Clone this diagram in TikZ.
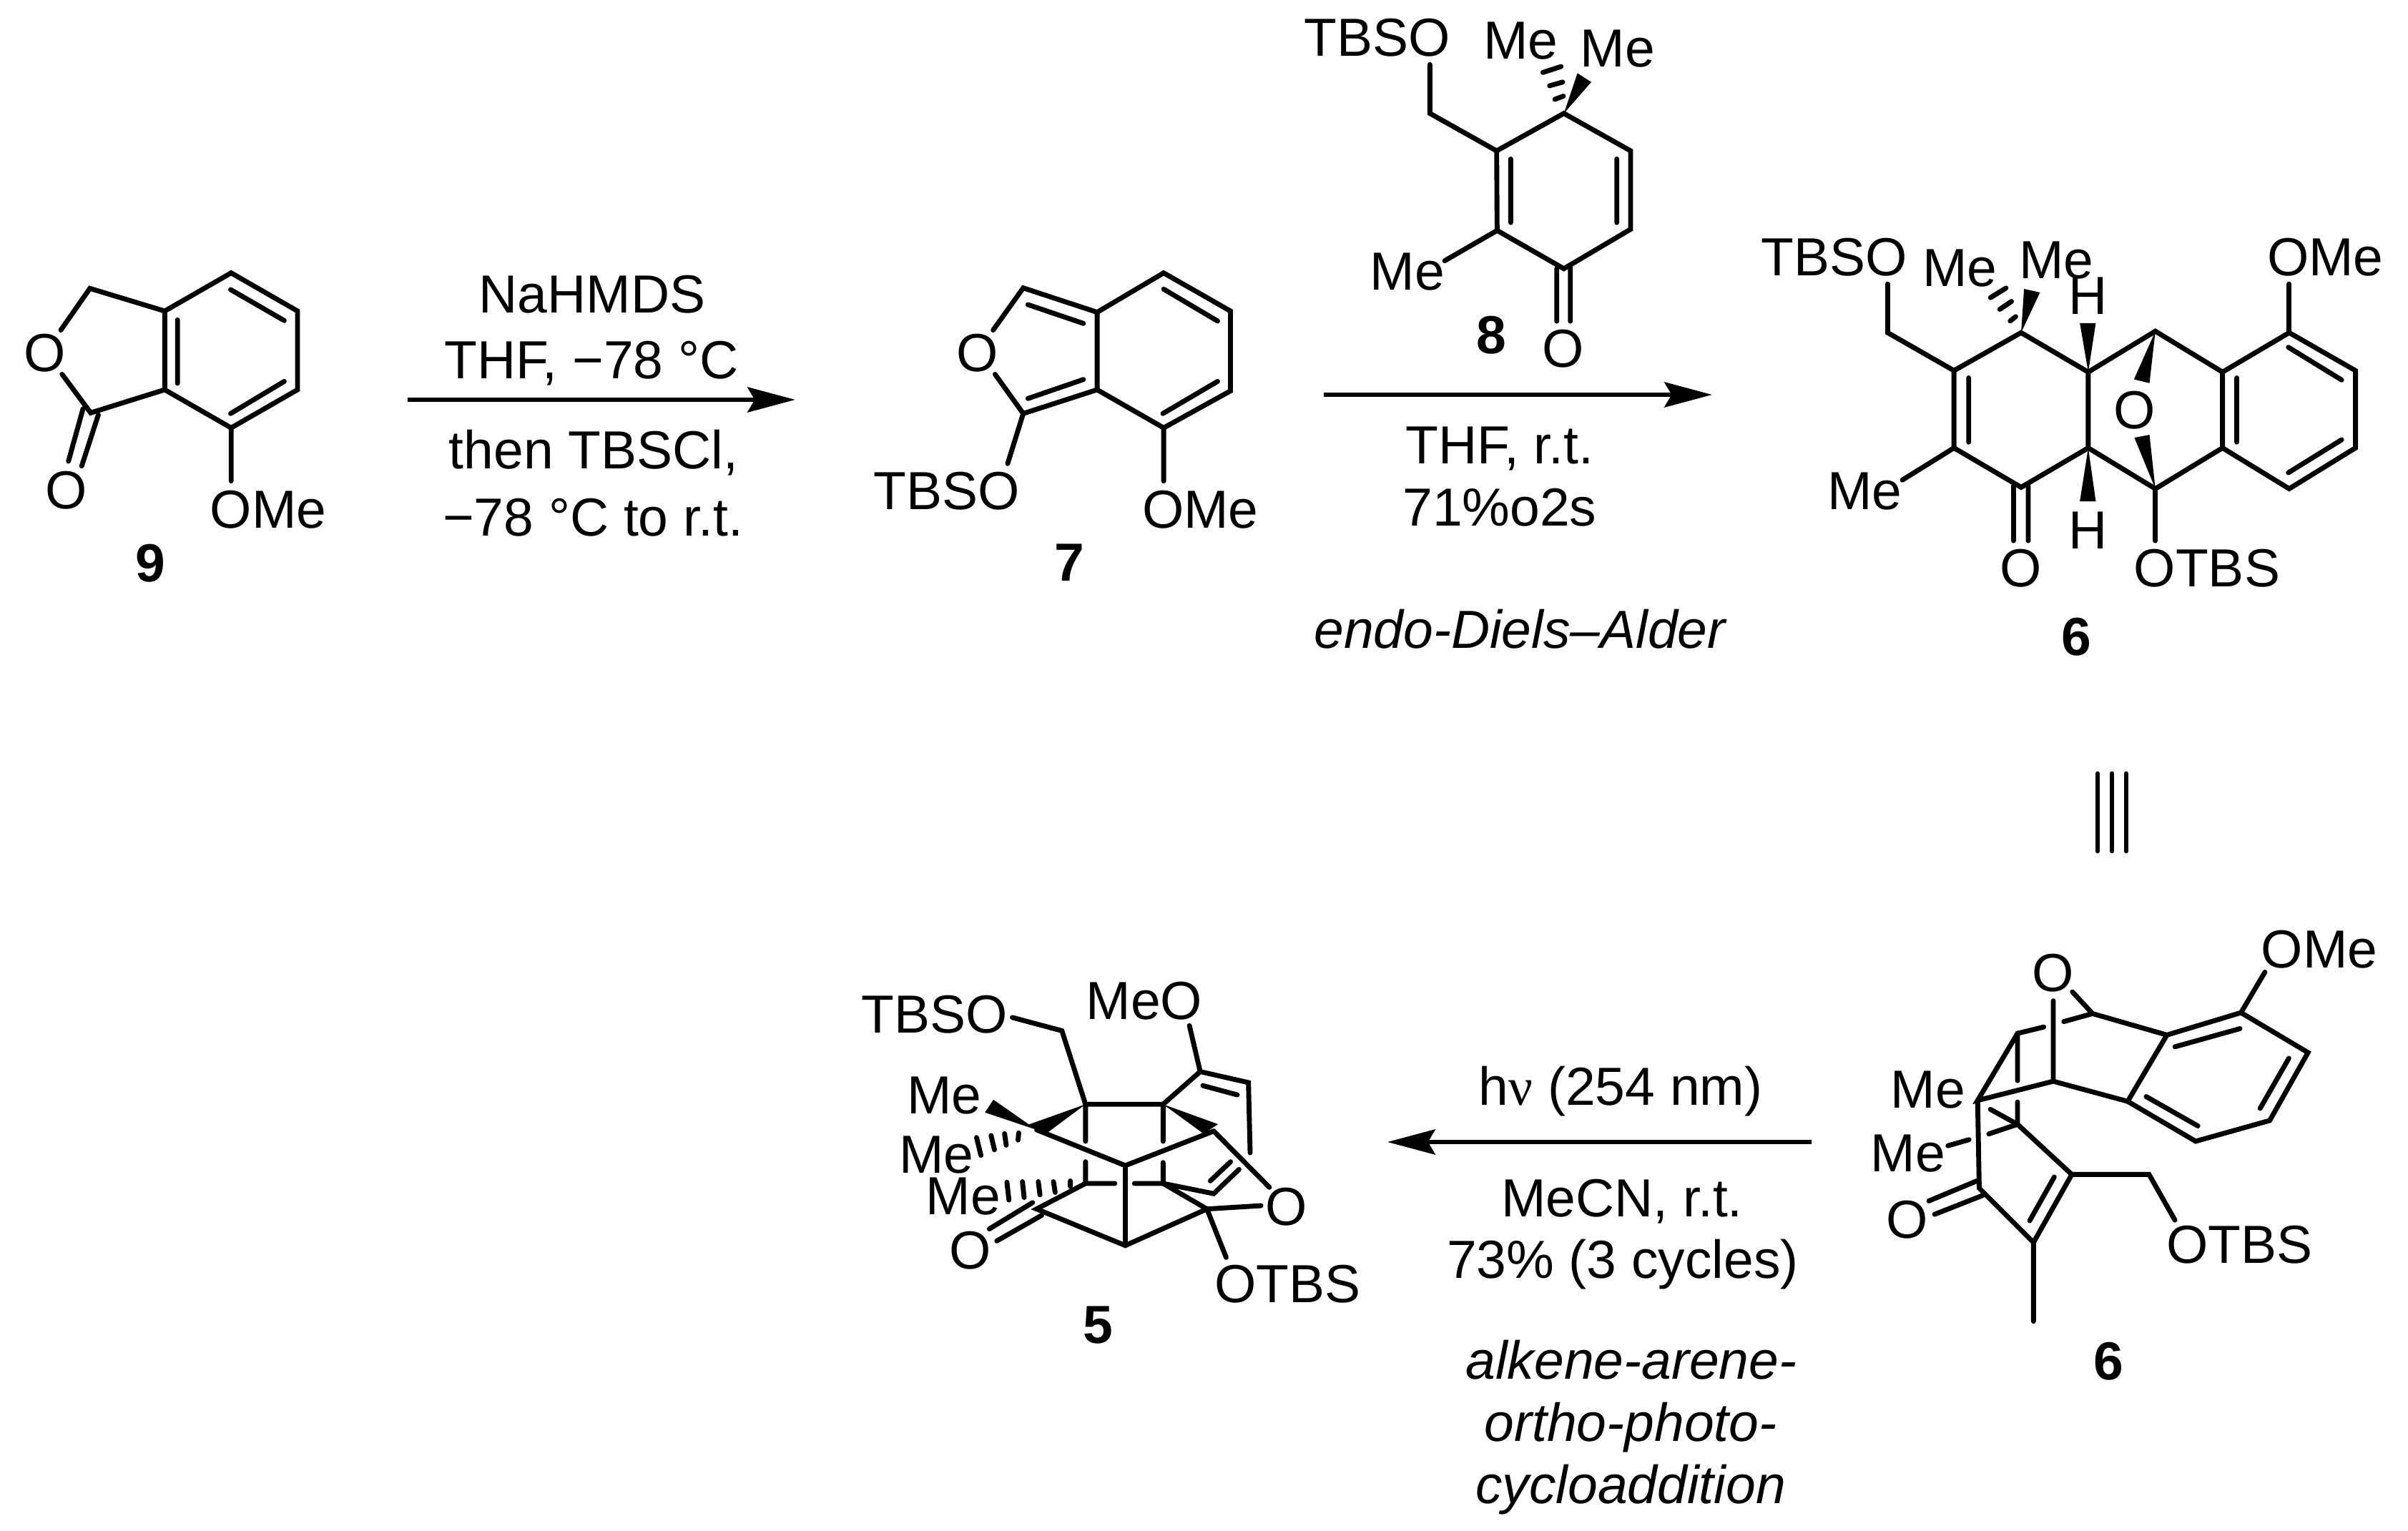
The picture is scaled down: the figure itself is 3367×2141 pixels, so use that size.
\documentclass[tikz,border=0pt]{standalone}
\usepackage{fontspec}
\setmainfont{Liberation Sans}
\newfontfamily\greekserif{Liberation Serif}
\usetikzlibrary{arrows.meta}
\newcommand\pts[1]{\foreach \n/\cx/\cy in {#1}{\coordinate (\n) at (\cx,\cy);}}
\tikzset{
  crop/.style n args={4}{shift={(#1,#2)},x=0.24pt/#3,y=-0.24pt/#4},
  bond/.style={line width=1.65pt,line cap=round,line join=miter,miter limit=10},
  wedgebond/.style={fill=black,draw=none},
  lab/.style={anchor=base,inner sep=0pt,font=\fontsize{18}{20}\selectfont},
  num/.style={anchor=base,inner sep=0pt,font=\fontsize{18}{20}\selectfont\bfseries},
  itlab/.style={anchor=base,inner sep=0pt,font=\fontsize{18}{20}\selectfont\itshape},
  rxn/.style={line width=1.6pt,-{Stealth[length=16pt,width=8.4pt,inset=2.4pt]}},
  eqline/.style={line width=1.65pt,line cap=round}
}
\begin{document}
\begin{tikzpicture}[x=0.24pt,y=-0.24pt]
\useasboundingbox (0,0) rectangle (3367,2141);

% --- compound 9 ---
\begin{scope}[crop={0}{340}{2.8}{3.0}]
\pts{a1/352/190,a2/645/285,a3/645/615,a4/355/712,a5/905/125,a6/1165/285,a7/1165/615,a8/905/775,
 a9/238/365,a10/243/550,a11/695/322,a12/695/588,a13/903/195,a14/1113/325,a15/1113/580,a16/903/715,
 a17/905/998,a18/325/695,a19/268/915,a20/385/720,a21/320/935}
\draw[bond] (a9)--(a1)--(a2)--(a3)--(a4)--(a10);
\draw[bond] (a2)--(a5)--(a6)--(a7)--(a8)--(a3);
\draw[bond] (a11)--(a12) (a13)--(a14) (a15)--(a16) (a8)--(a17) (a18)--(a19) (a20)--(a21);
\node[lab] (n9o1) at (175,540) {O};
\node[lab] (n9o2) at (260,1115) {O};
\node[lab] (n9ome) at (1050,1195) {OMe};
\node[num] (n9) at (588,1420) {9};
\end{scope}

% --- compound 7 ---
\begin{scope}[crop={1180}{340}{2.613}{3.0}]
\pts{b1/655/188,b2/925/290,b3/925/615,b4/655/715,b5/1168/125,b6/1412/285,b7/1412/620,b8/1168/775,
 b9/545/365,b10/552/550,b11/672/258,b12/875/337,b13/875/572,b14/672/652,b15/1168/193,b16/1365/327,
 b17/1365/580,b18/1165/715,b19/598/925,b20/1168/998}
\draw[bond] (b9)--(b1)--(b2)--(b3)--(b4)--(b10);
\draw[bond] (b2)--(b5)--(b6)--(b7)--(b8)--(b3);
\draw[bond] (b11)--(b12) (b13)--(b14) (b15)--(b16) (b17)--(b18) (b4)--(b19) (b8)--(b20);
\node[lab] (n7o) at (488,540) {O};
\node[lab] (n7tbso) at (375,1118) {TBSO};
\node[lab] (n7ome) at (1302,1195) {OMe};
\node[num] (n7) at (825,1418) {7};
\end{scope}

% --- compound 8 ---
\begin{scope}[crop={1800}{0}{3.0}{2.9}]
\pts{c1/598/262,c2/598/460,c3/878/612,c4/1160/460,c5/1440/612,c6/1440/930,c7/1160/1090,c8/880/935,
 c9/937/645,c10/937/903,c11/1382/645,c12/1382/903,c13/660/1058,c14/1130/1090,c15/1130/1303,
 c16/1187/1085,c17/1187/1303,c18/1217/297,c19/1275/333,c20/1122/403,c21/1158/390,c22/1100/348,
 c23/1155/333,c24/1072/294,c25/1148/270}
\draw[bond] (c1)--(c2)--(c3)--(c4)--(c5)--(c6)--(c7)--(c8)--(c3);
\draw[bond] (c9)--(c10) (c11)--(c12) (c8)--(c13) (c14)--(c15) (c16)--(c17);
\fill[wedgebond] (c4)--(c18)--(c19)--cycle;
\draw[bond] (c20)--(c21) (c22)--(c23) (c24)--(c25);
\node[lab] (n8tbso) at (376,228) {TBSO};
\node[lab] (n8me1) at (979,240) {Me};
\node[lab] (n8me2) at (1385,270) {Me};
\node[lab] (n8me3) at (503,1175) {Me};
\node[lab] (n8o) at (1158,1490) {O};
\node[num] (n8) at (857,1435) {8};
\end{scope}

% --- compound 6 (top) ---
\begin{scope}[crop={2440}{300}{1.704}{2.45}]
\pts{d1/340/238,d2/340/405,d3/498/535,d4/658/405,d5/818/540,d6/818/800,d7/658/935,d8/498/800,
 d9/533/560,d10/533/780,d11/375/910,d12/640/930,d13/640/1118,d14/675/930,d15/675/1118,
 d16/798/372,d17/836/372,d18/798/983,d19/836/983,d20/978/400,d21/1138/540,d22/1138/800,d23/978/940,
 d24/1297/405,d25/1455/535,d26/1455/800,d27/1297/940,d28/1172/560,d29/1172/780,d30/1295/455,
 d31/1422/567,d32/1422/772,d33/1295/885,d34/1297/238,d35/927/565,d36/964/578,d37/928/765,d38/964/755,
 d39/978/1118,d40/665/255,d41/703/267,d42/632/365,d43/645/350,d44/607/325,d45/635/298,d46/585/285,d47/622/252}
\draw[bond] (d1)--(d2)--(d3)--(d4)--(d5)--(d6)--(d7)--(d8)--(d3);
\draw[bond] (d5)--(d20)--(d21)--(d22)--(d23)--(d6);
\draw[bond] (d21)--(d24)--(d25)--(d26)--(d27)--(d22);
\draw[bond] (d9)--(d10) (d8)--(d11) (d12)--(d13) (d14)--(d15) (d28)--(d29) (d30)--(d31) (d32)--(d33);
\draw[bond] (d24)--(d34) (d23)--(d39);
\fill[wedgebond] (d5)--(d16)--(d17)--cycle;
\fill[wedgebond] (d6)--(d18)--(d19)--cycle;
\fill[wedgebond] (d20)--(d35)--(d36)--cycle;
\fill[wedgebond] (d23)--(d37)--(d38)--cycle;
\fill[wedgebond] (d4)--(d40)--(d41)--cycle;
\draw[bond] (d42)--(d43) (d44)--(d45) (d46)--(d47);
\node[lab] (n6tbso) at (213,210) {TBSO};
\node[lab] (n6me1) at (512,247) {Me};
\node[lab] (n6me2) at (742,220) {Me};
\node[lab] (n6h1) at (818,342) {H};
\node[lab] (n6h2) at (818,1145) {H};
\node[lab] (n6o1) at (928,735) {O};
\node[lab] (n6ome) at (1383,210) {OMe};
\node[lab] (n6me3) at (285,1010) {Me};
\node[lab] (n6o2) at (658,1275) {O};
\node[lab] (n6otbs) at (1101,1275) {OTBS};
\node[num] (n6) at (790,1510) {6};
\end{scope}

% --- compound 6 (perspective) ---
\begin{scope}[crop={2580}{1280}{2.24}{2.24}]
\pts{e1/652/268,e2/652/520,e3/712/240,e4/775/308,e5/1008/375,e6/685/333,e7/622/350,e8/540/370,
 e9/415/580,e10/540/518,e11/540/585,e12/540/655,e13/885/583,e14/1240/305,e15/1450/430,e16/1330/643,
 e17/1098/708,e18/1033/412,e19/1237/355,e20/1390/448,e21/1300/605,e22/1105/660,e23/943/568,
 e24/1315/178,e25/420/855,e26/455/608,e27/710/812,e28/450/685,e29/590/1025,e30/655/820,e31/578/957,
 e32/952/812,e33/1033/955,e34/590/1272,e35/413/832,e36/262/895,e37/430/878,e38/280/937,e39/388/703,e40/322/722}
\draw[bond] (e1)--(e2) (e3)--(e4)--(e5)--(e14)--(e15)--(e16)--(e17)--(e13)--(e5);
\draw[bond] (e4)--(e6) (e7)--(e8)--(e9)--(e2)--(e13);
\draw[bond] (e8)--(e10) (e11)--(e12) (e18)--(e19) (e20)--(e21) (e22)--(e23) (e14)--(e24);
\draw[bond] (e9)--(e25)--(e29)--(e27)--(e12)--(e26);
\draw[bond] (e12)--(e28) (e30)--(e31);
\draw[bond] (e27)--(e32)--(e33) (e29)--(e34) (e35)--(e36) (e37)--(e38) (e39)--(e40);
\node[lab] (p6o1) at (652,238) {O};
\node[lab] (p6ome) at (1486,165) {OMe};
\node[lab] (p6me1) at (260,603) {Me};
\node[lab] (p6me2) at (197,803) {Me};
\node[lab] (p6o2) at (195,1012) {O};
\node[lab] (p6otbs) at (1235,1090) {OTBS};
\node[num] (p6) at (825,1455) {6};
\end{scope}

% --- compound 5 ---
\begin{scope}[crop={1190}{1330}{2.119}{2.8}]
\pts{f1/478/260,f2/625/312,f3/695/600,f4/925/600,f5/1003/292,f6/1035/472,f7/1178/515,f8/1183/790,
 f9/1043/527,f10/1145/563,f11/525/680,f12/575/718,f13/1088/678,f14/1045/715,f15/550/700,f16/813/840,
 f17/1075/705,f18/422/582,f19/397/632,f20/695/745,f21/925/745,f22/695/825,f23/695/910,f24/925/828,
 f25/925/910,f26/782/910,f27/840/910,f28/550/1010,f29/1055/1010,f30/813/1153,f31/1075/950,f32/1150/855,
 f33/1065/900,f34/1125/825,f35/1240/925,f36/1215/997,f37/1112/1200,f38/538/985,f39/410/1088,
 f40/565/1035,f41/432/1135,
 g1/497/712,g2/495/740,g3/455/715,g4/460/760,g5/415/722,g6/425/778,g7/372/730,g8/385/800,
 g9/650/900,g10/650/922,g11/600/903,g12/605/945,g13/555/903,g14/560/955,g15/508/903,g16/513/965,g17/462/905,g18/468/975}
\draw[bond] (f1)--(f2)--(f3)--(f4)--(f6)--(f7)--(f8);
\draw[bond] (f5)--(f6) (f9)--(f10) (f3)--(f20) (f4)--(f21) (f22)--(f23) (f24)--(f25);
\draw[bond] (f15)--(f16)--(f17) (f16)--(f30);
\draw[bond] (f26)--(f23)--(f28)--(f30)--(f29)--(f25)--(f27);
\draw[bond] (f25)--(f31)--(f32) (f33)--(f34) (f17)--(f35) (f29)--(f36) (f29)--(f37) (f38)--(f39) (f40)--(f41);
\fill[wedgebond] (f3)--(f11)--(f12)--cycle;
\fill[wedgebond] (f4)--(f13)--(f14)--cycle;
\fill[wedgebond] (f15)--(f18)--(f19)--cycle;
\draw[bond] (g1)--(g2) (g3)--(g4) (g5)--(g6) (g7)--(g8) (g9)--(g10) (g11)--(g12) (g13)--(g14) (g15)--(g16) (g17)--(g18);
\node[lab] (n5tbso) at (247,320) {TBSO};
\node[lab] (n5meo) at (869,268) {MeO};
\node[lab] (n5me1) at (276,638) {Me};
\node[lab] (n5me2) at (253,870) {Me};
\node[lab] (n5me3) at (333,1032) {Me};
\node[lab] (n5o1) at (353,1245) {O};
\node[lab] (n5o2) at (1290,1075) {O};
\node[lab] (n5otbs) at (1294,1375) {OTBS};
\node[num] (n5) at (733,1535) {5};
\end{scope}

% --- reaction arrows and conditions ---
\coordinate (r1s) at (570,559); \coordinate (r1e) at (1112,559);
\coordinate (r2s) at (1851,552); \coordinate (r2e) at (2394,552);
\coordinate (r3s) at (2533,1597); \coordinate (r3e) at (1940,1597);
\draw[rxn] (r1s)--(r1e);
\draw[rxn] (r2s)--(r2e);
\draw[rxn] (r3s)--(r3e);
\node[lab] (t1) at (828,438) {NaHMDS};
\node[lab] (t2) at (827,530) {THF, −78 °C};
\node[lab] (t3) at (830,656) {then TBSCl,};
\node[lab] (t4) at (829,749) {−78 °C to r.t.};
\node[lab] (t5) at (2097,648) {THF, r.t.};
\node[lab] (t6) at (2097,736) {71\%o2s};
\node[itlab] (t7) at (2125,906) {endo-Diels–Alder};
\node[lab] (t8) at (2266,1545) {h{\greekserif ν} (254 nm)};
\node[lab] (t9) at (2268,1701) {MeCN, r.t.};
\node[lab] (t10) at (2269,1787) {73\% (3 cycles)};
\node[itlab] (t11) at (2281,1928) {alkene-arene-};
\node[itlab] (t12) at (2280,2015) {ortho-photo-};
\node[itlab] (t13) at (2280,2102) {cycloaddition};

% --- equivalence sign ---
\coordinate (q1a) at (2933,1082); \coordinate (q1b) at (2933,1190);
\coordinate (q2a) at (2953,1082); \coordinate (q2b) at (2953,1190);
\coordinate (q3a) at (2973,1082); \coordinate (q3b) at (2973,1190);
\draw[eqline] (q1a)--(q1b) (q2a)--(q2b) (q3a)--(q3b);
\end{tikzpicture}
\end{document}
